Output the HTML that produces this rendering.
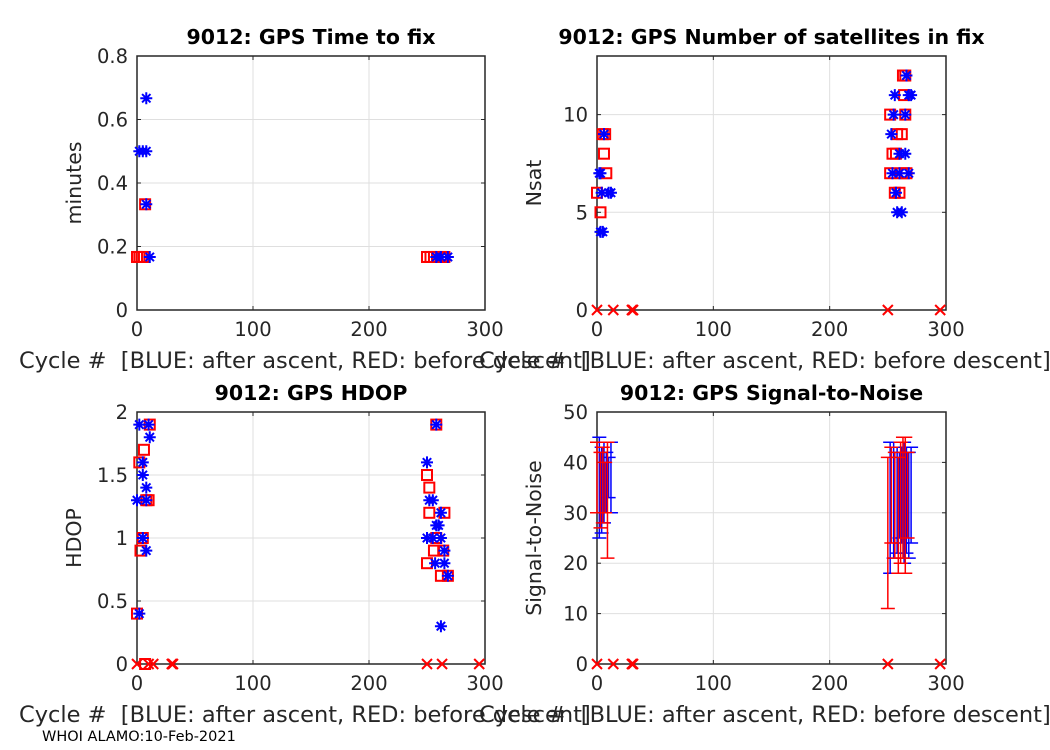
<!DOCTYPE html>
<html><head><meta charset="utf-8"><style>
body{margin:0;background:#fff;}
svg{display:block;font-family:"DejaVu Sans","Liberation Sans",sans-serif;}
text{white-space:pre;}
</style></head><body>
<svg id="fig" width="1050" height="750"></svg>
<script>
// ---- data ----
const ttfBlueX=[2,5,8,8,8,11,258,262,268];
const ttfBlueY=[0.5,0.5,0.5,0.667,0.333,0.167,0.167,0.167,0.167];
const ttfRedX=[0,2,4,6,7,250,253,256,259,262,265];
const ttfRedY=[0.167,0.167,0.167,0.167,0.333,0.167,0.167,0.167,0.167,0.167,0.167];

const satBlueX=[6,2,3,4,10,12,3,5,266,256,268,270,255,265,253,260,265,254,260,268,257,258,262];
const satBlueY=[9,7,7,6,6,6,4,4,12,11,11,11,10,10,9,8,8,7,7,7,6,5,5];
const satRedX=[5,7,6,8,0,3,263,265,264,252,265,258,262,254,257,252,262,266,256,260];
const satRedY=[9,9,8,7,6,5,12,12,11,10,10,9,9,8,8,7,7,7,6,6];
const zeroX=[0,14,30,31,250,295];

const hdBlueX=[2,10,11,5,5,5,8,8,0,5,8,2,250,252,255,258,262,250,255,262,258,260,265,257,265,268,262];
const hdBlueY=[1.9,1.9,1.8,1.6,1.5,1.0,1.4,1.3,1.3,1.0,0.9,0.4,1.6,1.3,1.3,1.9,1.2,1.0,1.0,1.0,1.1,1.1,0.9,0.8,0.8,0.7,0.3];
const hdRedX=[11,6,2,8,5,3,0,10,258,250,252,252,265,258,256,250,264,262,268,7];
const hdRedY=[1.9,1.7,1.6,1.3,1.0,0.9,0.4,1.3,1.9,1.5,1.4,1.2,1.2,1.0,0.9,0.8,0.9,0.7,0.7,0.0];
const hdZeroX=[0,10,14,30,31,250,263,295];

const snBlueX=[2,4,6,8,10,12,252,255,258,260,262,264,266,268,270];
const snBlueLo=[25,26,28,30,33,30,18,21,22,25,24,20,22,21,24];
const snBlueHi=[45,43,44,42,41,44,44,44,43,42,43,44,43,42,43];
const snRedX=[0,3,5,7,9,250,253,256,259,261,263,265,267];
const snRedLo=[30,27,28,30,21,11,24,21,18,20,21,18,25];
const snRedHi=[44,42,43,40,44,41,43,42,41,44,45,45,42];

const xTicks=[0,100,200,300];

function el(tag,attrs,parent){const e=document.createElementNS('http://www.w3.org/2000/svg',tag);for(const k in attrs)e.setAttribute(k,attrs[k]);(parent||svg).appendChild(e);return e;}
const svg=document.getElementById('fig');

function panel(name,L,T,R,B,ymax,yTicks,title,ylabel){
  const g=el('g',{});
  
  
  const sx=v=>L+(v/300)*(R-L), sy=v=>B-(v/ymax)*(B-T);
  el('rect',{x:L,y:T,width:R-L,height:B-T,fill:'#fff'},g);
  xTicks.forEach(t=>{
    el('line',{x1:sx(t),x2:sx(t),y1:T,y2:B,stroke:'#dfdfdf','stroke-width':1},g);
    el('line',{x1:sx(t),x2:sx(t),y1:B,y2:B-4,stroke:'#262626'},g);
    el('line',{x1:sx(t),x2:sx(t),y1:T,y2:T+4,stroke:'#262626'},g);
    const tx=el('text',{x:sx(t),y:B+26,'font-size':19.5,'text-anchor':'middle',fill:'#262626'},g);tx.textContent=t;
  });
  yTicks.forEach(t=>{
    el('line',{x1:L,x2:R,y1:sy(t),y2:sy(t),stroke:'#dfdfdf'},g);
    el('line',{x1:L,x2:L+4,y1:sy(t),y2:sy(t),stroke:'#262626'},g);
    el('line',{x1:R,x2:R-4,y1:sy(t),y2:sy(t),stroke:'#262626'},g);
    const tx=el('text',{x:L-9,y:sy(t)+7,'font-size':19.5,'text-anchor':'end',fill:'#262626'},g);tx.textContent=t;
  });
  el('rect',{x:L,y:T,width:R-L,height:B-T,fill:'none',stroke:'#262626','stroke-width':1.5},g);
  const tt=el('text',{x:(L+R)/2,y:T-12,'font-size':20.5,'font-weight':'bold','text-anchor':'middle',fill:'#000'},g);tt.textContent=title;
  
  const yl=el('text',{transform:`translate(${L-56},${(T+B)/2}) rotate(-90)`,'font-size':20.5,'text-anchor':'middle',fill:'#262626'},g);yl.textContent=ylabel;
  
  const xl=el('text',{x:L-118,y:B+58,'font-size':22.5,fill:'#262626'},g);xl.textContent='Cycle #  [BLUE: after ascent, RED: before descent]';
  
  return {g,sx,sy};
}
function star(p,x,y){const cx=p.sx(x),cy=p.sy(y),r=6;const s=el('path',{d:`M${cx-r},${cy}h${2*r}M${cx},${cy-r}v${2*r}M${cx-4.2},${cy-4.2}l8.4,8.4M${cx-4.2},${cy+4.2}l8.4,-8.4`,stroke:'#0000ff','stroke-width':2},p.g);}
function sq(p,x,y){const s=el('rect',{x:p.sx(x)-5,y:p.sy(y)-5,width:10,height:10,fill:'none',stroke:'#ff0000','stroke-width':2},p.g);}
function cross(p,x,y){const cx=p.sx(x),cy=p.sy(y);const s=el('path',{d:`M${cx-5},${cy-5}l10,10M${cx-5},${cy+5}l10,-10`,stroke:'#ff0000','stroke-width':2},p.g);}
function ebar(p,x,lo,hi,c){const cx=p.sx(x);const s=el('path',{d:`M${cx},${p.sy(lo)}V${p.sy(hi)}M${cx-7},${p.sy(lo)}h14M${cx-7},${p.sy(hi)}h14`,stroke:c,'stroke-width':1.5},p.g);}

const p1=panel('gps-time-to-fix',137,56,485,310,0.8,[0,0.2,0.4,0.6,0.8],'9012: GPS Time to fix','minutes');
ttfRedX.forEach((x,i)=>sq(p1,x,ttfRedY[i]));
ttfBlueX.forEach((x,i)=>star(p1,x,ttfBlueY[i]));

const p2=panel('gps-nsat',597,56,946,310,13,[0,5,10],'9012: GPS Number of satellites in fix','Nsat');
satRedX.forEach((x,i)=>sq(p2,x,satRedY[i]));
satBlueX.forEach((x,i)=>star(p2,x,satBlueY[i]));
zeroX.forEach(x=>cross(p2,x,0));

const p3=panel('gps-hdop',137,412,485,664,2,[0,0.5,1,1.5,2],'9012: GPS HDOP','HDOP');
hdRedX.forEach((x,i)=>sq(p3,x,hdRedY[i]));
hdBlueX.forEach((x,i)=>star(p3,x,hdBlueY[i]));
hdZeroX.forEach(x=>cross(p3,x,0));

const p4=panel('gps-snr',597,412,946,664,50,[0,10,20,30,40,50],'9012: GPS Signal-to-Noise','Signal-to-Noise');
snBlueX.forEach((x,i)=>ebar(p4,x,snBlueLo[i],snBlueHi[i],'#0000ff'));
snRedX.forEach((x,i)=>ebar(p4,x,snRedLo[i],snRedHi[i],'#ff0000'));
zeroX.forEach(x=>cross(p4,x,0));

const f=el('text',{x:42,y:741,'font-size':14.5,fill:'#000'});f.textContent='WHOI ALAMO:10-Feb-2021';


</script>
</body></html>
